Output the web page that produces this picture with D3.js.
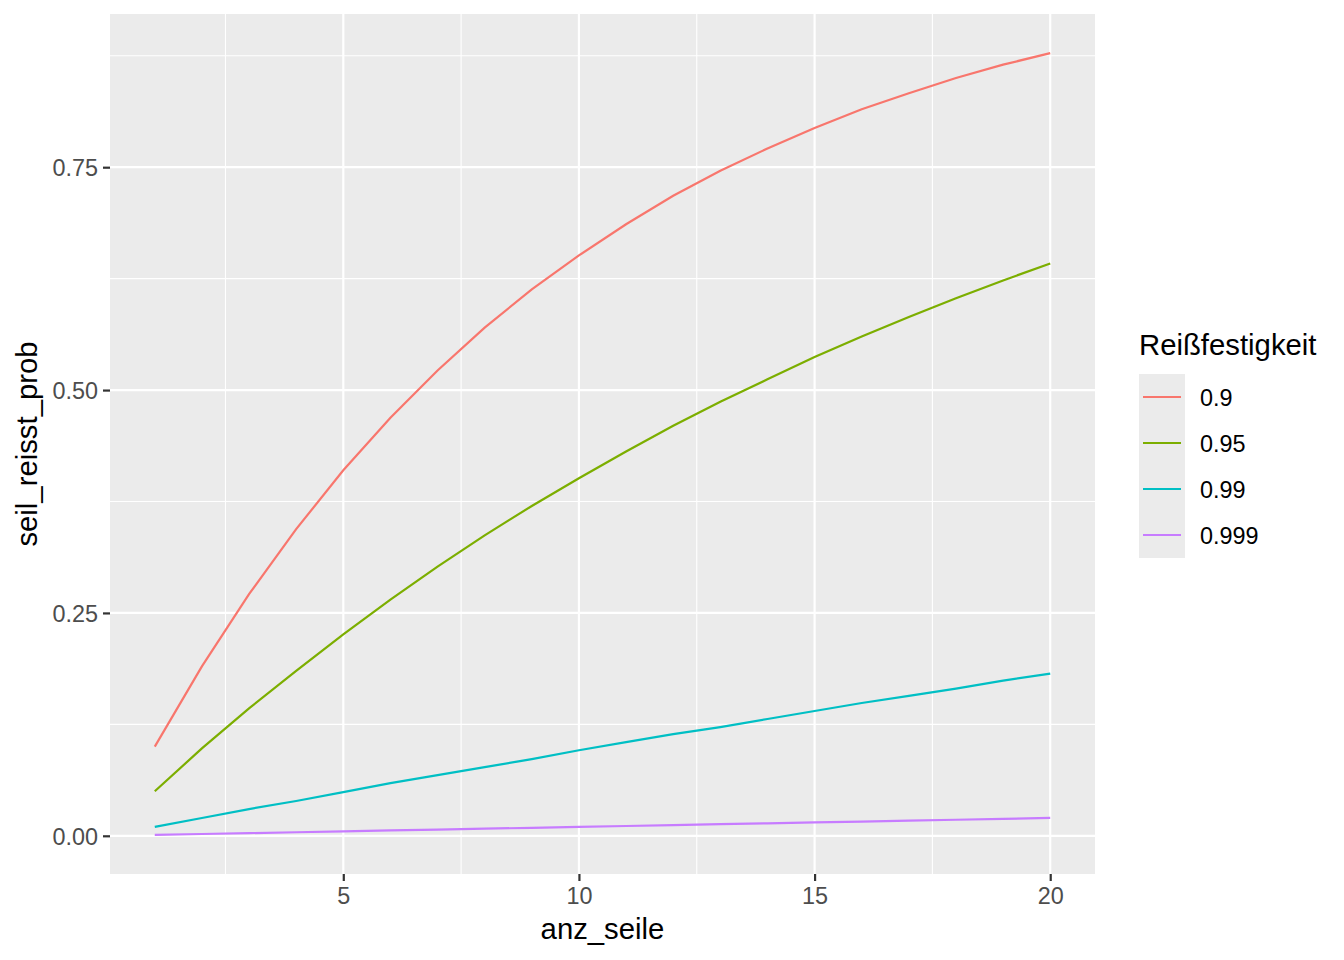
<!DOCTYPE html>
<html><head><meta charset="utf-8">
<script src="https://cdn.jsdelivr.net/npm/d3@7"></script>
<style>body{margin:0;background:#fff;} svg{display:block;font-family:"Liberation Sans",Arial,sans-serif;}</style>
</head><body>
<svg id="c" width="1344" height="960"></svg>
<script>
const anzSeile = [1,2,3,4,5,6,7,8,9,10,11,12,13,14,15,16,17,18,19,20];
const seriesNames = ["0.9","0.95","0.99","0.999"];
const colors = ["#F8766D","#7CAE00","#00BFC4","#C77CFF"];
const v090 = [0.100,0.190,0.271,0.344,0.410,0.469,0.522,0.570,0.613,0.651,0.686,0.718,0.746,0.771,0.794,0.815,0.833,0.850,0.865,0.878];
const v095 = [0.050,0.098,0.143,0.185,0.226,0.265,0.302,0.337,0.370,0.401,0.431,0.460,0.487,0.512,0.537,0.560,0.582,0.603,0.623,0.642];
const v099 = [0.010,0.020,0.030,0.039,0.049,0.059,0.068,0.077,0.086,0.096,0.105,0.114,0.122,0.131,0.140,0.149,0.157,0.165,0.174,0.182];
const v0999 = [0.001,0.002,0.003,0.004,0.005,0.006,0.007,0.008,0.009,0.010,0.011,0.012,0.013,0.014,0.015,0.016,0.017,0.018,0.019,0.020];
const xTicks = [5,10,15,20];
const xMinor = [2.5,7.5,12.5,17.5];
const yTicks = [0,0.25,0.5,0.75];
const yMinor = [0.125,0.375,0.625,0.875];

const seriesVals = [v090,v095,v099,v0999];
const svg = d3.select("#c");
const L=110,R=1095,T=14,B=874;
const xmin=d3.min(anzSeile), xmax=d3.max(anzSeile);
const allY = seriesVals.flat();
const ymin=d3.min(allY), ymax=d3.max(allY);
const xp=(xmax-xmin)*0.05, yp=(ymax-ymin)*0.05;
const x=d3.scaleLinear().domain([xmin-xp,xmax+xp]).range([L,R]);
const y=d3.scaleLinear().domain([ymin-yp,ymax+yp]).range([B,T]);

svg.append("rect").attr("x",L).attr("y",T).attr("width",R-L).attr("height",B-T).attr("fill","#EBEBEB");
const g=svg.append("g");
xMinor.forEach(v=>g.append("line").attr("x1",x(v)).attr("x2",x(v)).attr("y1",T).attr("y2",B).attr("stroke","#fff").attr("stroke-width",1.1));
yMinor.forEach(v=>g.append("line").attr("y1",y(v)).attr("y2",y(v)).attr("x1",L).attr("x2",R).attr("stroke","#fff").attr("stroke-width",1.1));
xTicks.forEach(v=>g.append("line").attr("x1",x(v)).attr("x2",x(v)).attr("y1",T).attr("y2",B).attr("stroke","#fff").attr("stroke-width",2.2));
yTicks.forEach(v=>g.append("line").attr("y1",y(v)).attr("y2",y(v)).attr("x1",L).attr("x2",R).attr("stroke","#fff").attr("stroke-width",2.2));

const line=d3.line().x((d,i)=>x(anzSeile[i])).y(d=>y(d));
seriesVals.forEach((s,k)=>{
  svg.append("path").datum(s).attr("d",line).attr("fill","none").attr("stroke",colors[k]).attr("stroke-width",2.2);
});

// axes
const xa=svg.append("g").attr("transform",`translate(0,${B})`).call(d3.axisBottom(x).tickValues(xTicks).tickSize(7).tickPadding(4).tickFormat(d3.format("d")));
const ya=svg.append("g").attr("transform",`translate(${L},0)`).call(d3.axisLeft(y).tickValues(yTicks).tickSize(7).tickPadding(5).tickFormat(d3.format(".2f")));
[xa,ya].forEach(a=>{
  a.attr("font-size",null).attr("font-family",null);
  a.select(".domain").remove();
  a.selectAll(".tick line").attr("stroke","#333").attr("stroke-width",2.2);
  a.selectAll(".tick text").attr("fill","#4D4D4D").style("font-size","23.4px");
});
xa.selectAll(".tick text").attr("dy",null).attr("y",30);
ya.selectAll(".tick text").attr("dy","0.36em");

svg.append("text").attr("x",(L+R)/2).attr("y",939).attr("text-anchor","middle").style("font-size","29.3px").attr("fill","#000").text("anz_seile");
svg.append("text").attr("transform",`translate(37,${(T+B)/2}) rotate(-90)`).attr("text-anchor","middle").style("font-size","29.3px").attr("fill","#000").text("seil_reisst_prob");

// legend
const lg=svg.append("g");
lg.append("text").attr("x",1139).attr("y",355).style("font-size","29.3px").attr("fill","#000").text("Reißfestigkeit");
lg.append("rect").attr("x",1139).attr("y",374).attr("width",46).attr("height",184).attr("fill","#EBEBEB");
seriesNames.forEach((n,k)=>{
  const cy=374+23+k*46;
  lg.append("line").attr("x1",1143).attr("x2",1181).attr("y1",cy).attr("y2",cy).attr("stroke",colors[k]).attr("stroke-width",2.2);
  lg.append("text").attr("x",1200).attr("y",cy+8.5).style("font-size","23.4px").attr("fill","#000").text(n);
});
</script>
</body></html>
